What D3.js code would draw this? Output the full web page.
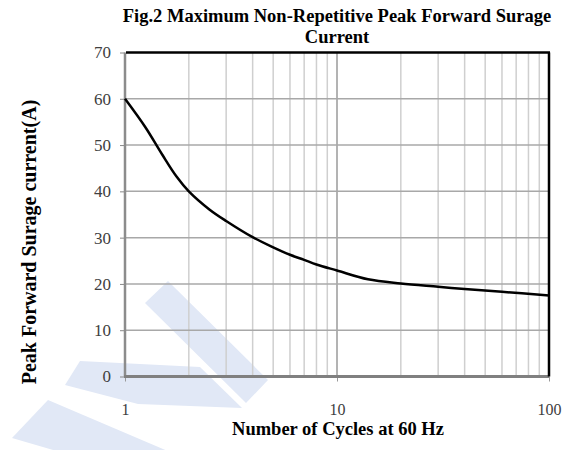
<!DOCTYPE html>
<html>
<head>
<meta charset="utf-8">
<script src="https://cdn.jsdelivr.net/npm/d3@7"></script>
<style>
  body { margin: 0; background: #fff; }
  svg { display: block; }
  text { font-family: "Liberation Serif", "Times New Roman", Times, serif; }
</style>
</head>
<body>
<div id="chart"></div>
<script>
// data
var cycles  = [1, 1.25, 1.5, 1.75, 2, 2.5, 3, 4, 5, 6, 7, 8, 10, 14, 20, 30, 40, 60, 100];
var current = [60, 53.8, 47.9, 43.2, 40, 36.1, 33.6, 30.1, 27.9, 26.3, 25.2, 24.2, 22.9, 21, 20.1, 19.4, 18.9, 18.3, 17.5];
var yTicks = [0, 10, 20, 30, 40, 50, 60, 70];
var xTicks = [1, 10, 100];
var titleLines = ["Fig.2 Maximum Non-Repetitive Peak Forward Surage", "Current"];

var serif = "'Liberation Serif', 'Times New Roman', Times, serif";
var width = 574, height = 450;
var margin = {top: 52.5, right: 25, bottom: 73.5, left: 125};

var svg = d3.select("#chart").append("svg")
  .attr("width", width)
  .attr("height", height);

// faint watermark behind the chart
var mark = svg.append("g").attr("fill", "#e1e8f6");
[
  [[145,303],[168,281],[268,380],[246,403]],
  [[65,385],[80,361],[200,367],[242,408],[138,404]],
  [[12,438],[48,400],[170,452],[60,452]]
].forEach(function(p) {
  mark.append("polygon").attr("points", p.join(" "));
});

var x = d3.scaleLog()
  .domain([1, 100])
  .range([margin.left, width - margin.right]);

var y = d3.scaleLinear()
  .domain([0, 70])
  .range([height - margin.bottom, margin.top]);

var g = svg.append("g");

// vertical grid (minor and major)
var minor = [];
[1, 10].forEach(function(dec) {
  for (var k = 2; k <= 9; k++) minor.push(dec * k);
});
g.selectAll("line.vminor")
  .data(minor)
  .enter().append("line")
  .attr("class", "vminor")
  .attr("x1", function(d) { return x(d); })
  .attr("x2", function(d) { return x(d); })
  .attr("y1", y(0))
  .attr("y2", y(70))
  .style("stroke", "#cfcfcf")
  .style("stroke-width", 1.5);

g.append("line")
  .attr("x1", x(10)).attr("x2", x(10))
  .attr("y1", y(0)).attr("y2", y(70))
  .style("stroke", "#9a9a9a")
  .style("stroke-width", 1.5);

// horizontal grid
g.selectAll("line.hgrid")
  .data(yTicks.slice(1, -1))
  .enter().append("line")
  .attr("class", "hgrid")
  .attr("x1", x(1))
  .attr("x2", x(100))
  .attr("y1", function(d) { return y(d); })
  .attr("y2", function(d) { return y(d); })
  .style("stroke", "#a8a8a8")
  .style("stroke-width", 1.5);

// y axis
var yAxis = svg.append("g")
  .attr("transform", "translate(" + margin.left + ",0)")
  .call(d3.axisLeft(y).tickValues(yTicks).tickSize(5).tickPadding(9));
yAxis.select(".domain").remove();
yAxis.selectAll(".tick line").style("stroke", "#888");
yAxis.selectAll(".tick text")
  .style("font-size", "17px")
  .style("fill", "#404040")
  .style("font-family", serif);

// x axis
var xAxis = svg.append("g")
  .attr("transform", "translate(0," + y(0) + ")")
  .call(d3.axisBottom(x).tickValues(xTicks).tickFormat(d3.format("d")).tickSize(5).tickPadding(22));
xAxis.select(".domain").remove();
xAxis.selectAll(".tick line").style("stroke", "#999");
xAxis.selectAll(".tick text")
  .style("font-size", "16px")
  .style("fill", "#404040")
  .style("font-family", serif);

// frame: gray left/bottom, black top/right
svg.append("line")
  .attr("x1", x(1)).attr("x2", x(1))
  .attr("y1", y(0)).attr("y2", y(70))
  .style("stroke", "#8c8c8c").style("stroke-width", 2.5);
svg.append("line")
  .attr("x1", x(1) - 1).attr("x2", x(100))
  .attr("y1", y(0)).attr("y2", y(0))
  .style("stroke", "#808080").style("stroke-width", 3);
svg.append("line")
  .attr("x1", x(1) + 1).attr("x2", x(100) + 1)
  .attr("y1", y(70)).attr("y2", y(70))
  .style("stroke", "#000").style("stroke-width", 2.5);
svg.append("line")
  .attr("x1", x(100)).attr("x2", x(100))
  .attr("y1", y(70)).attr("y2", y(0))
  .style("stroke", "#000").style("stroke-width", 2.5);

// curve
var pts = cycles.map(function(c, i) { return [c, current[i]]; });
var line = d3.line()
  .x(function(d) { return x(d[0]); })
  .y(function(d) { return y(d[1]); })
  .curve(d3.curveCatmullRom.alpha(0.5));

svg.append("path")
  .datum(pts)
  .attr("d", line)
  .style("fill", "none")
  .style("stroke", "#000")
  .style("stroke-width", 2.5);

// titles
svg.selectAll("text.title")
  .data(titleLines)
  .enter().append("text")
  .attr("class", "title")
  .attr("x", 337)
  .attr("y", function(d, i) { return 22 + i * 20.5; })
  .attr("text-anchor", "middle")
  .style("font-weight", "bold")
  .style("font-size", "18.5px")
  .style("font-family", serif)
  .text(function(d) { return d; });

svg.append("text")
  .attr("x", 338)
  .attr("y", 435)
  .attr("text-anchor", "middle")
  .style("font-weight", "bold")
  .style("font-size", "18.5px")
  .style("font-family", serif)
  .text("Number of Cycles at 60 Hz");

svg.append("text")
  .attr("transform", "translate(36,242) rotate(-90)")
  .attr("text-anchor", "middle")
  .style("font-weight", "bold")
  .style("font-size", "20px")
  .style("font-family", serif)
  .text("Peak Forward Surage current(A)");
</script>
</body>
</html>
